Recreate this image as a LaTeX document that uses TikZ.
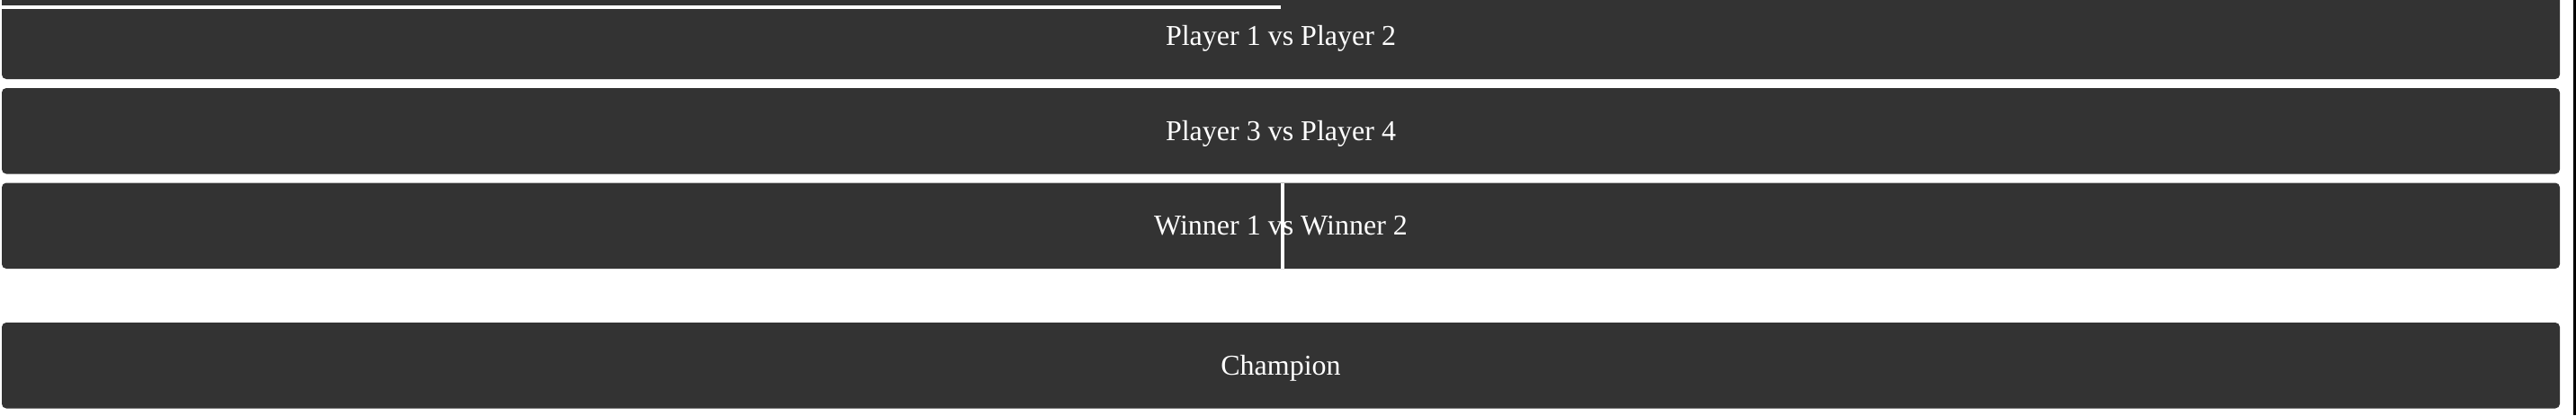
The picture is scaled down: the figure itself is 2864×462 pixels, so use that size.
\documentclass[tikz,border=0pt]{standalone}
\usepackage{fontspec}
\setmainfont{Liberation Serif}
\usetikzlibrary{positioning}
\definecolor{match_grey}{HTML}{333333}
\tikzset{
  match_font/.style = {font=\fontsize{16pt}{19pt}\selectfont},
  full_size/.style = {minimum width=1422pt, minimum height=47.75pt},
  match_background/.style = {fill=match_grey}
}
\tikzset{
  match/.style = {match_font, full_size, match_background, text=white, rounded corners=2.5pt,
    inner sep=0, outer sep=0, text height=10.6pt, text depth=0pt, align=center},
  link/.style = {draw=white, line width=2pt}
}

\begin{document}
\begin{tikzpicture}[x=0.5pt, y=-0.5pt, node distance=5pt]
    \clip (0,0) rectangle (2864,462);

    % Matches
    \node[match] at (1424,40.25) (m1) {Player 1 vs Player 2};
    \node[match, below=of m1] (m2) {Player 3 vs Player 4};
    \node[match, below=of m2] (m3) {Winner 1 vs Winner 2};
    \node[match, below=30pt of m3] (champ) {Champion};

    % Lines
    \coordinate (start) at (0,7.5);
    \draw[link] (start) -- (start -| m1.center);
    \draw[link] ([xshift=1pt]m3.north) -- ([xshift=1pt]m3.south);

    % Edge
    \fill[black] (2861,0) rectangle (2864,462);
\end{tikzpicture}
\end{document}
